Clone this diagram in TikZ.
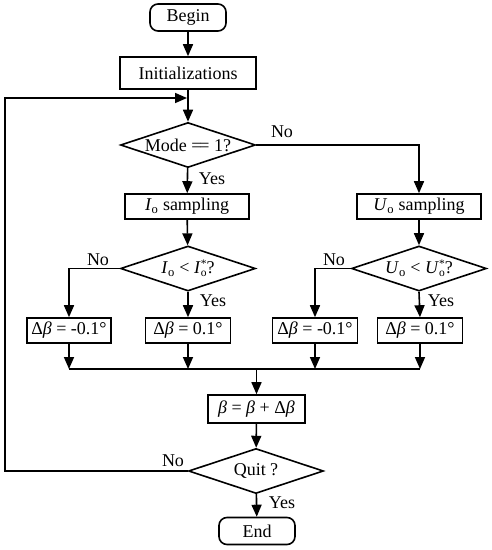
\documentclass[tikz,border=0pt]{standalone}
\usepackage{fontspec}
\setmainfont{Liberation Serif}
\usetikzlibrary{shapes.geometric,arrows.meta,calc}
\newcommand{\subsz}{\fontsize{11.5}{12}\selectfont}
\newcommand{\Io}{\textit{I}\textsubscript{o}}
\newcommand{\Uo}{\textit{U}\textsubscript{o}}
\newcommand{\Ios}{\textit{I}\rlap{\raisebox{-0.35ex}{\subsz o}}\raisebox{0.75ex}{\subsz *}}
\newcommand{\Uos}{\textit{U}\rlap{\raisebox{-0.35ex}{\subsz o}}\raisebox{0.75ex}{\subsz *}}
\newcommand{\bt}{\textit{β}}
\begin{document}
\begin{tikzpicture}[x=1pt,y=-1pt,
  font=\fontsize{18}{20}\selectfont,
  line width=1.6pt,
  >={Triangle[length=12pt,width=10pt]},
  box/.style={draw,rectangle,inner sep=0pt,minimum height=#1},
  box/.default=25pt,
  term/.style={draw,rectangle,rounded corners=8pt,inner sep=0pt,minimum width=76pt,minimum height=27pt},
  dia/.style={draw,diamond,inner sep=0pt,minimum width=135pt,minimum height=45pt},
  lab/.style={inner sep=0pt}]
\useasboundingbox (0,0) rectangle (491,550);
\node[term] (begin) at (188,17.5) {Begin};
\node[box=32pt,minimum width=136pt] (init) at (188,73) {Initializations};
\node[dia] (mode) at (188,145) {\makebox[0pt]{Mode =\kern-0.12em= 1?}};
\node[box,minimum width=124pt] (isamp) at (187,206.5) {\Io{} sampling};
\node[box,minimum width=124pt] (usamp) at (419,206.5) {\Uo{} sampling};
\node[dia] (idia) at (188,268.5) {\makebox[0pt]{\Io{} < \Ios?}};
\node[dia] (udia) at (419,268.5) {\makebox[0pt]{\Uo{} < \Uos?}};
\node[box,minimum width=84pt] (b1) at (69,330.5) {Δ\bt{} = -0.1°};
\node[box,minimum width=85pt] (b2) at (188,330.5) {Δ\bt{} = 0.1°};
\node[box,minimum width=85pt] (b3) at (315,330.5) {Δ\bt{} = -0.1°};
\node[box,minimum width=85pt] (b4) at (420,330.5) {Δ\bt{} = 0.1°};
\node[box=28pt,minimum width=97pt] (beta) at (256.5,409) {\bt{} = \bt{} + Δ\bt};
\node[dia] (quit) at (256,471) {\makebox[0pt]{Quit ?}};
\node[term] (end) at (257,531) {End};
% labels
\node[lab] at (282,132) {No};
\node[lab] at (212,179) {Yes};
\node[lab] at (98,260) {No};
\node[lab] at (334,260) {No};
\node[lab] at (213,301) {Yes};
\node[lab] at (441,301) {Yes};
\node[lab] at (173,461) {No};
\node[lab] at (282,503) {Yes};
% coordinates
\coordinate (j1) at (188,98);
\coordinate (ml) at (69,369);
\coordinate (mr) at (420,369);
\coordinate (mc) at (256.5,369);
\coordinate (lb) at (5,471);
% connectors
\draw[->] (begin) -- (init);
\draw[->] (init) -- (mode);
\draw[->] (mode) -- (isamp);
\draw[->] (mode.east) -| (usamp.north);
\draw[->] (isamp) -- (idia);
\draw[->] (usamp) -- (udia);
\draw[->] (idia.west) -| (b1.north);
\draw[->] (idia.south) -- (b2.north);
\draw[->] (udia.west) -| (b3.north);
\draw[->] (udia.south) -- (b4.north);
\draw[->] (b1.south) -- (b1.south |- ml);
\draw[->] (b2.south) -- (b2.south |- ml);
\draw[->] (b3.south) -- (b3.south |- ml);
\draw[->] (b4.south) -- (b4.south |- ml);
\draw (ml) -- (mr);
\draw[->] (mc) -- (beta.north);
\draw[->] (beta) -- (quit);
\draw[->] (quit) -- (end);
\draw[->,shorten >=1pt] (quit.west) -- (lb) |- (j1);
\end{tikzpicture}
\end{document}
